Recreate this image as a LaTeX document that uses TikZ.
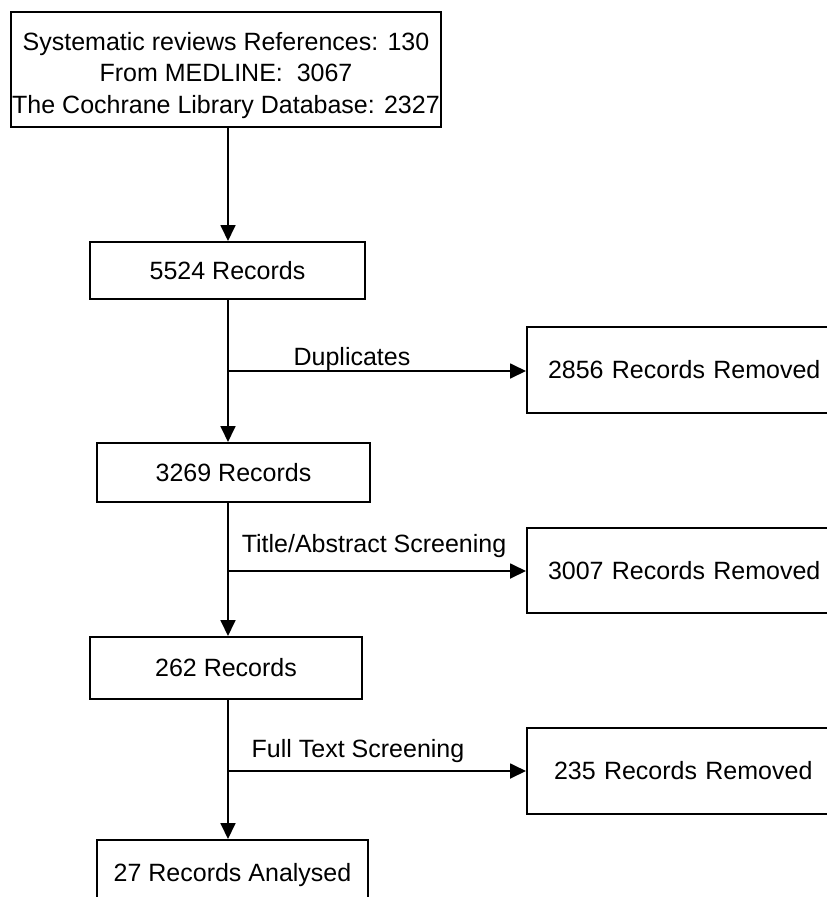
\documentclass[tikz,border=0pt]{standalone}
\usepackage{fontspec}
\setmainfont{Liberation Sans}
\usetikzlibrary{arrows.meta}
\begin{document}
\begin{tikzpicture}[x=1pt,y=1pt,
  box/.style={draw=black,line width=2pt,fill=white,inner sep=0pt,align=center,font=\fontsize{25}{31.5}\selectfont},
  txt/.style={inner sep=0pt,align=center,font=\fontsize{25}{31.5}\selectfont},
  lbl/.style={inner sep=0pt,anchor=base,font=\fontsize{25}{30}\selectfont},
  conn/.style={line width=1.8pt,-{Triangle[length=16pt,width=15pt]}}]
\useasboundingbox (0,0) rectangle (827,-897);
\clip (0,0) rectangle (827,-897);
\node[box,minimum width=430pt,minimum height=115pt] (top) at (226,-69.5) {};
\node[txt] (toptext) at (226,-75.5) {Systematic reviews References: 130\\From MEDLINE:\ \ 3067\\The Cochrane Library Database: 2327};
\node[box,minimum width=275pt,minimum height=57pt] (r1) at (227.5,-270.5) {5524 Records};
\node[box,minimum width=273pt,minimum height=59pt] (r2) at (233.5,-472.5) {3269 Records};
\node[box,minimum width=272pt,minimum height=62pt] (r3) at (226,-668) {262 Records};
\node[box,minimum width=271pt,minimum height=70pt] (r4) at (232.5,-875) {27 Records Analysed};
\node[box,minimum width=340pt,minimum height=86pt,text width=300pt,align=left] (d1) at (697,-370) {\hspace*{1pt}2856 Records Removed};
\node[box,minimum width=340pt,minimum height=85pt,text width=300pt,align=left] (d2) at (697,-570.5) {\hspace*{1pt}3007 Records Removed};
\node[box,minimum width=340pt,minimum height=86pt,text width=300pt,align=left] (d3) at (697,-771) {\hspace*{7pt}235 Records Removed};
\coordinate (m) at (228,0);
\coordinate (b1) at (228,-371);
\coordinate (b2) at (228,-571);
\coordinate (b3) at (228,-771);
\draw[conn] (top.south -| m) -- (r1.north -| m);
\draw[conn] (r1.south -| m) -- (r2.north -| m);
\draw[conn] (r2.south -| m) -- (r3.north -| m);
\draw[conn] (r3.south -| m) -- (r4.north -| m);
\draw[conn] (b1) -- (b1 -| d1.west);
\draw[conn] (b2) -- (b2 -| d2.west);
\draw[conn] (b3) -- (b3 -| d3.west);
\node[lbl] (l1) at (352,-365) {Duplicates};
\node[lbl] (l2) at (374,-552) {Title/Abstract Screening};
\node[lbl] (l3) at (358,-757) {Full Text Screening};
\end{tikzpicture}
\end{document}
